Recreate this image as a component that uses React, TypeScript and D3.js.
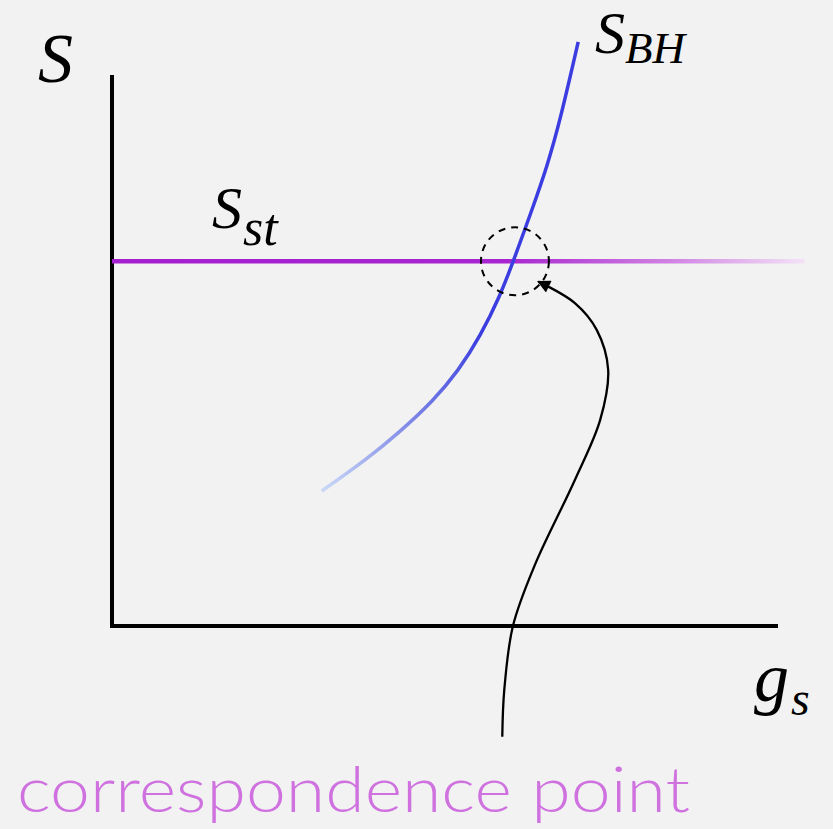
import React from "react";
import * as d3 from "d3";

const W = 833;
const H = 829;

// S_BH curve (g_s, S) in axis units
const bhG = [3.15, 3.83, 4.32, 4.82, 5.2, 5.53, 5.83, 6.02, 6.32, 6.53, 6.73, 7.0];
const bhS = [2.45, 3.03, 3.52, 4.08, 4.63, 5.26, 6.0, 6.6, 7.6, 8.33, 9.18, 10.6];

// S_st constant line
const stLevel = 6.62;
const stRange = [0, 10.4];

// correspondence point
const corrG = [6.05];
const corrS = [6.62];

// annotation arrow path (axis units)
const arrowG = [5.86, 5.89, 6.02, 6.35, 6.95, 7.33, 7.45, 7.28, 6.95, 6.4];
const arrowS = [-2.01, -1.16, 0, 1.11, 2.65, 3.74, 4.65, 5.37, 5.86, 6.25];

const labels = ["S", "g", "s", "S", "st", "S", "BH", "correspondence point"];

export default function App() {
  const x = d3.scaleLinear().domain([0, 10]).range([112, 778]);
  const y = d3.scaleLinear().domain([0, 10]).range([626, 75]);

  const smooth = d3
    .line<[number, number]>()
    .x((d) => x(d[0]))
    .y((d) => y(d[1]))
    .curve(d3.curveBasis);

  const line = d3
    .line<[number, number]>()
    .x((d) => x(d[0]))
    .y((d) => y(d[1]))
    .curve(d3.curveCatmullRom.alpha(0.5));

  const bhPts: [number, number][] = bhG.map((g, i) => [g, bhS[i]]);
  const arrowPts: [number, number][] = arrowG.map((g, i) => [g, arrowS[i]]);
  const rCorr = x(0.51) - x(0);

  const mathFont = "'Liberation Serif', serif";

  return (
    <svg
      width={W}
      height={H}
      style={{ position: "absolute", left: 0, top: 0, display: "block" }}
    >
      <defs>
        <linearGradient
          id="stGrad"
          gradientUnits="userSpaceOnUse"
          x1={x(stRange[0])}
          x2={x(stRange[1])}
          y1={0}
          y2={0}
        >
          <stop offset="0" stopColor="#a51fcf" />
          <stop offset="0.57" stopColor="#a825d0" />
          <stop offset="0.8" stopColor="#cf80e2" />
          <stop offset="1" stopColor="#f3e3f6" />
        </linearGradient>
        <linearGradient
          id="bhGrad"
          gradientUnits="userSpaceOnUse"
          x1={x(bhG[0])}
          y1={y(bhS[0])}
          x2={x(bhG[5])}
          y2={y(bhS[5])}
        >
          <stop offset="0" stopColor="#cad9f7" />
          <stop offset="0.5" stopColor="#7f88e6" />
          <stop offset="1" stopColor="#3b3de0" />
        </linearGradient>
        <marker
          id="arrowHead"
          viewBox="0 0 10 10"
          refX="9"
          refY="5"
          markerWidth="15"
          markerHeight="13"
          orient="auto"
          markerUnits="userSpaceOnUse"
        >
          <path d="M0,0 L10,5 L0,10 z" fill="#000" />
        </marker>
      </defs>
      <rect x={0} y={0} width={W} height={H} fill="#f1f2f1" />

      {/* axes */}
      <path
        d={`M${x(0)},${y(10)} L${x(0)},${y(0)} L${x(10)},${y(0)}`}
        fill="none"
        stroke="#000"
        strokeWidth={4}
      />

      {/* S_st line */}
      <line
        x1={x(stRange[0])}
        x2={x(stRange[1])}
        y1={y(stLevel)}
        y2={y(stLevel)}
        stroke="url(#stGrad)"
        strokeWidth={4.5}
      />

      {/* S_BH curve */}
      <path d={smooth(bhPts) ?? ""} fill="none" stroke="url(#bhGrad)" strokeWidth={3.5} />

      {/* correspondence circle */}
      <circle
        cx={x(corrG[0])}
        cy={y(corrS[0])}
        r={rCorr}
        fill="none"
        stroke="#000"
        strokeWidth={2}
        strokeDasharray="7 6"
      />

      {/* arrow */}
      <path
        d={line(arrowPts) ?? ""}
        fill="none"
        stroke="#000"
        strokeWidth={2.3}
        markerEnd="url(#arrowHead)"
      />

      {/* labels */}
      <text x={38} y={82} fontFamily={mathFont} fontStyle="italic" fontSize={70} fill="#000">
        {labels[0]}
      </text>
      <text x={754} y={701} fontFamily={mathFont} fontStyle="italic" fontSize={70} fill="#000">
        {labels[1]}
        <tspan fontSize={48} dy={14} dx={2}>{labels[2]}</tspan>
      </text>
      <text x={212} y={228} fontFamily={mathFont} fontStyle="italic" fontSize={60} fill="#000">
        {labels[3]}
        <tspan fontSize={52} dy={17} dx={1}>{labels[4]}</tspan>
      </text>
      <text x={595} y={53} fontFamily={mathFont} fontStyle="italic" fontSize={60} fill="#000">
        {labels[5]}
        <tspan fontSize={45} dy={10}>{labels[6]}</tspan>
      </text>
      <text
        x={17}
        y={812}
        fontFamily="Lato, sans-serif"
        fontWeight={300}
        fontSize={64}
        fill="#cf72e0"
        textLength={673}
        lengthAdjust="spacingAndGlyphs"
      >
        {labels[7]}
      </text>
    </svg>
  );
}
